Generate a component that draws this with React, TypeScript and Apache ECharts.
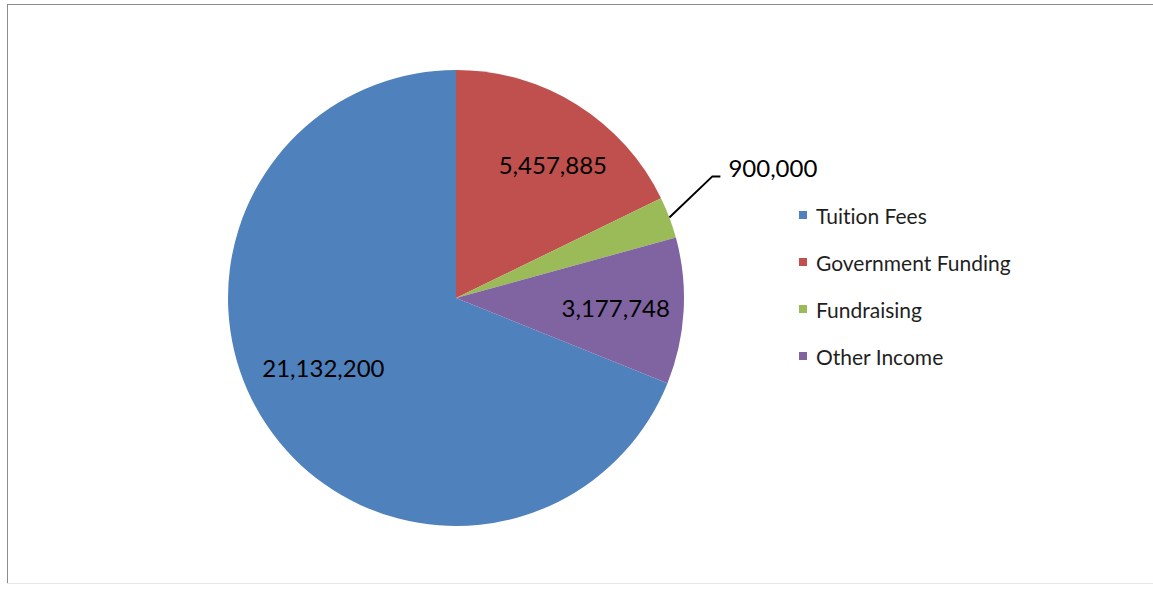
import React, { useEffect, useRef } from "react";
import * as echarts from "echarts";

const categories = ["Tuition Fees", "Government Funding", "Fundraising", "Other Income"];
const values = [21132200, 5457885, 900000, 3177748];
const colors = ["#4F81BD", "#C0504D", "#9BBB59", "#8064A2"];
const outsideLabel = [false, false, true, false];

const FONT = "Lato";

export default function App() {
  const ref = useRef<HTMLDivElement>(null);
  useEffect(() => {
    document.body.style.margin = "0";
    const chart = echarts.init(ref.current!, null, { renderer: "svg" });
    const total = values.reduce((a, b) => a + b, 0);
    const startAngle = 90 + (values[0] / total) * 360;
    const fmt = (v: number) => v.toLocaleString("en-US");

    const baseData = categories.map((name, i) => ({
      name,
      value: values[i],
      itemStyle: { color: colors[i] },
      label: { show: outsideLabel[i] },
      labelLine: { show: outsideLabel[i] },
    }));
    const labelData = categories.map((name, i) => ({
      name,
      value: values[i],
      label: { show: !outsideLabel[i] },
    }));

    chart.setOption({
      animation: false,
      backgroundColor: "#ffffff",
      graphic: [
        { type: "line", shape: { x1: 7, y1: 4.5, x2: 1153, y2: 4.5 }, style: { stroke: "#8c8c8c", lineWidth: 1 } },
        { type: "line", shape: { x1: 7.5, y1: 4, x2: 7.5, y2: 583 }, style: { stroke: "#8c8c8c", lineWidth: 1 } },
        { type: "line", shape: { x1: 7, y1: 583.5, x2: 1153, y2: 583.5 }, style: { stroke: "#e6e6e6", lineWidth: 1 } },
      ],
      legend: {
        orient: "vertical",
        left: 794,
        top: 199,
        data: categories,
        icon: "rect",
        itemWidth: 8,
        itemHeight: 8,
        itemGap: 25,
        selectedMode: false,
        textStyle: {
          fontFamily: FONT,
          fontSize: 21,
          color: "#1f1f1f",
          lineHeight: 22,
          padding: [0, 0, 0, 4],
        },
      },
      series: [
        {
          type: "pie",
          center: [456, 298],
          radius: [0, 228],
          startAngle,
          clockwise: true,
          silent: true,
          avoidLabelOverlap: false,
          itemStyle: { borderWidth: 0 },
          label: {
            position: "outside",
            formatter: (p: any) => fmt(p.value),
            fontFamily: FONT,
            fontSize: 24,
            color: "#000000",
            distanceToLabelLine: 8,
          },
          labelLine: {
            length: 46,
            length2: 8,
            smooth: false,
            lineStyle: { color: "#000000", width: 2 },
          },
          labelLayout: (p: any) => {
            if (p.dataIndex !== 2 || !p.labelLinePoints) return {};
            const pts = p.labelLinePoints;
            const shift = -25;
            return {
              dy: shift - 9,
              labelLinePoints: [
                [pts[0][0], pts[0][1]],
                [pts[1][0], pts[1][1] + shift],
                [pts[2][0], pts[2][1] + shift],
              ],
            };
          },
          data: baseData,
        },
        {
          type: "pie",
          center: [456, 298],
          radius: [86, 228],
          startAngle,
          clockwise: true,
          silent: true,
          itemStyle: { color: "rgba(0,0,0,0)", borderWidth: 0 },
          label: {
            position: "inside",
            formatter: (p: any) => fmt(p.value),
            fontFamily: FONT,
            fontSize: 24,
            color: "#000000",
          },
          labelLine: { show: false },
          labelLayout: (p: any) => {
            if (p.dataIndex === 0) return { dy: -20 };
            if (p.dataIndex === 1) return { dx: 12, dy: 2 };
            return {};
          },
          data: labelData,
        },
      ],
    });
    return () => chart.dispose();
  }, []);
  return (
    <>
      <style>{`.pie-chart-root text { font-variant-ligatures: none; font-feature-settings: "liga" 0; }`}</style>
      <div className="pie-chart-root" ref={ref} style={{ width: 1153, height: 589 }} />
    </>
  );
}
